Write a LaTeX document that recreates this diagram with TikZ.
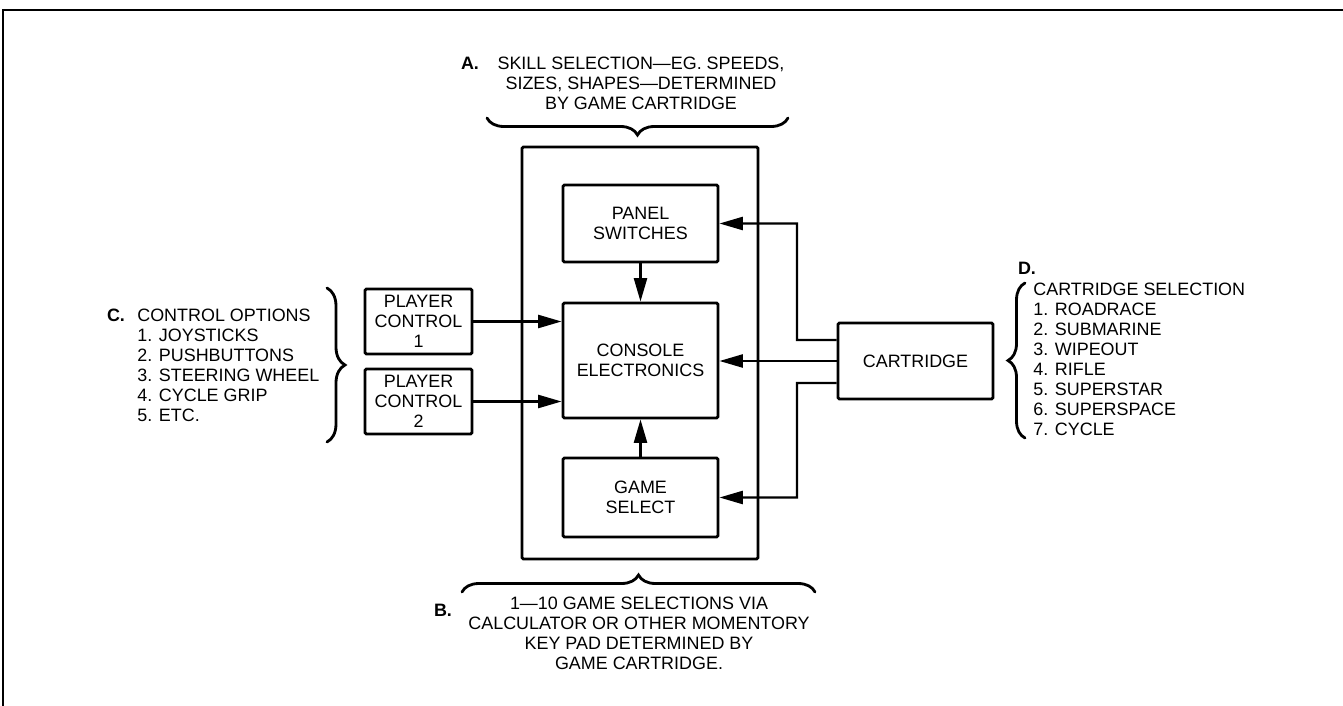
\documentclass[tikz,border=0pt]{standalone}
\usepackage{fontspec}
\setmainfont{Liberation Sans}
\usetikzlibrary{arrows.meta,decorations.pathreplacing}

\begin{document}
\begin{tikzpicture}[x=0.02cm, y=-0.02cm,
    font=\fontsize{10.2}{11.38}\selectfont,
    box/.style={draw, line width=1.6pt, inner sep=0pt, align=center, rounded corners=0.8pt},
    arr/.style={line width=1.4pt, -{Triangle[length=4.7mm,width=2.6mm]}},
    brc/.style={line width=1.6pt, line cap=round, decorate,
        decoration={brace, amplitude=#1}},
    note/.style={inner sep=0pt}]
    \useasboundingbox (0,0) rectangle (1343,706);

    % Frame: top and left edge only
    \draw[line width=1.1pt] (3,706) -- (3,10) -- (1343,10);

    % Console housing
    \node[box, minimum width=4.72cm, minimum height=8.24cm] (housing) at (640,353) {};

    % Blocks inside the console
    \node[box, minimum width=3.1cm, minimum height=1.54cm] (panel) at (640.5,223.5) {PANEL\\SWITCHES};
    \node[box, minimum width=3.1cm, minimum height=2.3cm] (console) at (640.5,360.5) {CONSOLE\\ELECTRONICS};
    \node[box, minimum width=3.1cm, minimum height=1.58cm] (gamesel) at (640.5,497.5) {GAME\\SELECT};

    % Player controls
    \node[box, minimum width=2.14cm, minimum height=1.3cm] (pc1) at (418.5,321.5) {PLAYER\\CONTROL\\1};
    \node[box, minimum width=2.14cm, minimum height=1.3cm] (pc2) at (418.5,401.5) {PLAYER\\CONTROL\\2};

    % Cartridge
    \node[box, minimum width=3.1cm, minimum height=1.52cm] (cart) at (915.5,361) {CARTRIDGE};

    % Connections into the console electronics
    \draw[arr] (pc1.east) -- (pc1.east -| console.west);
    \draw[arr] (pc2.east) -- (pc2.east -| console.west);
    \draw[arr] (panel) -- (console);
    \draw[arr] (gamesel) -- (console);
    \draw[arr] (cart.west) -- (cart.west -| console.east);

    % Cartridge feeds panel switches and game select
    \coordinate (bendU) at (797,340);
    \coordinate (bendL) at (797,383);
    \draw[arr] ([yshift=0.42cm]cart.west) -- (bendU) |- (panel.east);
    \draw[arr] ([yshift=-0.44cm]cart.west) -- (bendL) |- (gamesel.east);

    % A. skill selection
    \draw[brc=0.34cm] (788,118) -- (487,118);
    \node[note, font=\fontsize{10.2}{11.38}\selectfont\bfseries] (labA) at (470,63) {A.};
    \node[note, align=center] (txtA) at (641,83)
        {SKILL SELECTION---EG. SPEEDS,\\SIZES, SHAPES---DETERMINED\\BY GAME CARTRIDGE};

    % B. game selections
    \draw[brc=0.34cm] (462,592) -- (815,592);
    \node[note, font=\fontsize{10.2}{11.38}\selectfont\bfseries] (labB) at (443,610) {B.};
    \node[note, align=center] (txtB) at (639,633)
        {1---10 GAME SELECTIONS VIA\\CALCULATOR OR OTHER MOMENTORY\\KEY PAD DETERMINED BY\\GAME CARTRIDGE.};

    % C. control options
    \draw[brc=0.36cm] (327,288) -- (327,442);
    \node[note, font=\fontsize{10.2}{11.38}\selectfont\bfseries] (labC) at (116,315) {C.};
    \node[note, anchor=west, align=left] (txtC) at (137,365)
        {CONTROL OPTIONS\\1. JOYSTICKS\\2. PUSHBUTTONS\\3. STEERING WHEEL\\4. CYCLE GRIP\\5. ETC.};

    % D. cartridge selection
    \draw[brc=0.34cm] (1025,438) -- (1025,283);
    \node[note, font=\fontsize{10.2}{11.38}\selectfont\bfseries] (labD) at (1027,268) {D.};
    \node[note, anchor=west, align=left] (txtD) at (1033,359.5)
        {CARTRIDGE SELECTION\\1. ROADRACE\\2. SUBMARINE\\3. WIPEOUT\\4. RIFLE\\5. SUPERSTAR\\6. SUPERSPACE\\7. CYCLE};
\end{tikzpicture}
\end{document}
